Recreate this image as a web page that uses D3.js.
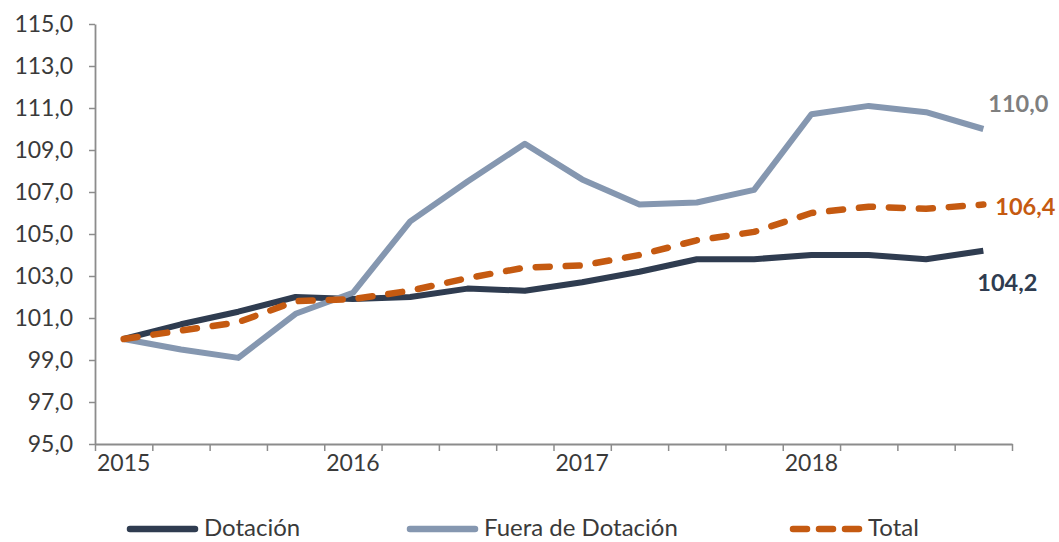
<!DOCTYPE html>
<html>
<head>
<meta charset="utf-8">
<script src="https://cdn.jsdelivr.net/npm/d3@7"></script>
<style>
  html, body { margin: 0; padding: 0; background: #fff; }
  svg { display: block; font-family: Lato, "Open Sans", sans-serif; }
</style>
</head>
<body>
<svg id="chart" width="1059" height="542"></svg>
<script>
// ---- Data ----
const quarters = ["2015T1","2015T2","2015T3","2015T4","2016T1","2016T2","2016T3","2016T4",
                  "2017T1","2017T2","2017T3","2017T4","2018T1","2018T2","2018T3","2018T4"];
const yearLabels = ["2015","","","","2016","","","","2017","","","","2018","","",""];
const dotacion = [100.0,100.7,101.3,102.0,101.9,102.0,102.4,102.3,102.7,103.2,103.8,103.8,104.0,104.0,103.8,104.2];
const fuera    = [100.0,99.5,99.1,101.2,102.2,105.6,107.5,109.3,107.6,106.4,106.5,107.1,110.7,111.1,110.8,110.0];
const total    = [100.0,100.4,100.8,101.8,101.9,102.3,102.9,103.4,103.5,104.0,104.7,105.1,106.0,106.3,106.2,106.4];
const yTicks   = [95,97,99,101,103,105,107,109,111,113,115];
const seriesNames = ["Dotación","Fuera de Dotación","Total"];

// ---- Setup ----
const svg = d3.select("#chart");
const mLeft = 95, mRight = 1012, mTop = 24, mBottom = 444;
const x = d3.scaleLinear().domain([0, quarters.length]).range([mLeft, mRight]);
const y = d3.scaleLinear().domain([95, 115]).range([mBottom, mTop]);
const loc = d3.formatLocale({decimal: ",", thousands: ".", grouping: [3], currency: ["", "€"]});
const fmt = loc.format(".1f");

const axisColor = "#8c8c8c";
const textColor = "#3a3a3a";

// Y axis
const yAxis = svg.append("g").attr("transform", `translate(${mLeft},0)`)
  .call(d3.axisLeft(y).tickValues(yTicks).tickFormat(fmt).tickSize(6).tickSizeOuter(0));
yAxis.select(".domain").attr("stroke", axisColor).attr("stroke-width", 1.8);
yAxis.selectAll(".tick line").attr("stroke", axisColor).attr("stroke-width", 1.5);
yAxis.selectAll(".tick text").attr("font-size", 23).attr("fill", textColor)
  .attr("font-family", "Lato, sans-serif").attr("x", -22);

// X axis
const xAxis = svg.append("g").attr("transform", `translate(0,${mBottom})`)
  .call(d3.axisBottom(x).tickValues(d3.range(quarters.length + 1)).tickFormat("").tickSize(7).tickSizeOuter(0));
xAxis.select(".domain").attr("stroke", axisColor).attr("stroke-width", 1.8);
xAxis.selectAll(".tick line").attr("stroke", axisColor).attr("stroke-width", 1.5);

svg.append("g").selectAll("text").data(yearLabels).join("text")
  .attr("x", (d, i) => x(i + 0.5))
  .attr("y", 463)
  .attr("dy", "0.35em")
  .attr("text-anchor", "middle")
  .attr("font-size", 23)
  .attr("fill", textColor)
  .text(d => d);

// Lines
const line = d3.line().x((d, i) => x(i + 0.5)).y(d => y(d));
const styles = [
  {data: dotacion, color: "#2f3c50", dash: null, width: 6},
  {data: fuera, color: "#8597b0", dash: null, width: 6},
  {data: total, color: "#c55a11", dash: "14,16", width: 6.5}
];
styles.forEach(s => {
  svg.append("path").datum(s.data)
    .attr("d", line)
    .attr("fill", "none")
    .attr("stroke", s.color)
    .attr("stroke-width", s.width)
    .attr("stroke-linejoin", "round")
    .attr("stroke-linecap", s.dash ? "round" : "butt")
    .attr("stroke-dasharray", s.dash);
});

// End labels
const last = quarters.length - 1;
const endLabels = [
  {v: fuera[last], color: "#7f7f7f", dx: 5, dy: -25},
  {v: total[last], color: "#c55a11", dx: 12, dy: 2},
  {v: dotacion[last], color: "#2f3c50", dx: -6, dy: 32}
];
endLabels.forEach(l => {
  svg.append("text")
    .attr("x", x(last + 0.5) + l.dx)
    .attr("y", y(l.v) + l.dy)
    .attr("dy", "0.35em")
    .attr("font-size", 23.5)
    .attr("font-weight", "bold")
    .attr("fill", l.color)
    .text(fmt(l.v));
});

// Legend
const legendY = 528;
const legendItems = [
  {name: seriesNames[0], x0: 127, x1: 198, tx: 204, color: "#2f3c50", dash: null},
  {name: seriesNames[1], x0: 407, x1: 478, tx: 484, color: "#8597b0", dash: null},
  {name: seriesNames[2], x0: 790, x1: 863, tx: 868, color: "#c55a11", dash: "14,12"}
];
const lg = svg.append("g");
legendItems.forEach(it => {
  lg.append("line")
    .attr("x1", it.x0 + 3).attr("x2", it.x1 - 3).attr("y1", legendY + 1).attr("y2", legendY + 1)
    .attr("stroke", it.color).attr("stroke-width", 6.5)
    .attr("stroke-linecap", "round")
    .attr("stroke-dasharray", it.dash);
  lg.append("text")
    .attr("x", it.tx).attr("y", legendY).attr("dy", "0.35em")
    .attr("font-size", 24).attr("fill", textColor)
    .text(it.name);
});
</script>
</body>
</html>
